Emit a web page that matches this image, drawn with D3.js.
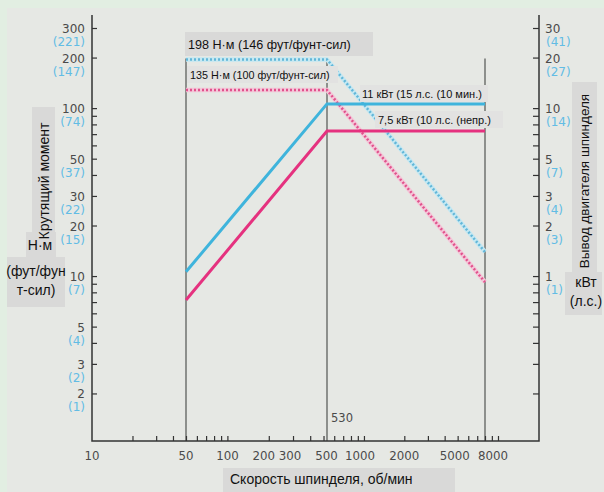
<!DOCTYPE html>
<html>
<head>
<meta charset="utf-8">
<script src="https://cdn.jsdelivr.net/npm/d3@7"></script>
<style>
body { margin: 0; background: #e6e8e4; }
svg { display: block; }
</style>
</head>
<body>
<svg id="chart"></svg>
<script>
// spindle speed (rpm) break points
const speeds = [50, 530, 8000];
// power curves, kW (right axis), as drawn
const power11 = [1.06, 10.6, 10.6];
const power75 = [0.72, 7.3, 7.3];
// torque curves, N·m (left axis), as drawn
const torque198 = [195, 195, 13.9];
const torque135 = [128, 128, 9.2];

const xLabels = [10, 50, 100, 200, 300, 500, 1000, 2000, 5000, 8000];
const xTicks = [20, 30, 40, 50, 60, 70, 80, 90, 100, 200, 300, 400, 500, 600, 700, 800, 900, 1000,
                2000, 3000, 4000, 5000, 6000, 7000, 8000, 9000, 10000];
const yLabels = [300, 200, 100, 50, 30, 20, 10, 5, 3, 2];
const yLabelsFt = ["(221)", "(147)", "(74)", "(37)", "(22)", "(15)", "(7)", "(4)", "(2)", "(1)"];
const yTicks = [2, 3, 4, 5, 6, 7, 8, 9, 10, 20, 30, 40, 50, 60, 70, 80, 90, 100, 200, 300];
const kwLabels = [30, 20, 10, 5, 3, 2, 1];
const kwLabelsHp = ["(41)", "(27)", "(14)", "(7)", "(4)", "(3)", "(1)"];
const kwTicks = yTicks.map(d => d / 10);

const width = 604, height = 492;
const svg = d3.select("#chart").attr("width", width).attr("height", height);

// background, pale green edge
svg.append("rect").attr("width", width).attr("height", height).attr("fill", "#e2eee2");
svg.append("rect").attr("x", 7).attr("y", 8).attr("width", width - 7).attr("height", height - 8).attr("fill", "#e6e8e4");

const x0 = 92, x1 = 539, yTop = 15, yBot = 441;

// the printed axis is not a clean log scale, so pin it at the marked speeds
const x = d3.scaleLog().domain([10, 50, 530, 8000]).range([92, 186, 327, 485]);
const y = d3.scaleLog().domain([1, 300]).range([444, 28]);
const yKw = d3.scaleLog().domain([0.1, 30]).range([444, 28]);

const numFont = "DejaVu Sans, sans-serif";
const txtFont = "Liberation Sans, Arial, sans-serif";

// vertical guide lines
svg.selectAll(".vline").data(speeds).join("line")
  .attr("x1", d => x(d)).attr("x2", d => x(d))
  .attr("y1", y(torque198[0]) - 1).attr("y2", yBot)
  .attr("stroke", "#5e605c").attr("stroke-width", 1.3);

const line = (vals, sc) => d3.line().x((d, i) => x(speeds[i])).y(d => sc(d))(vals);

// torque, dotted
function dotted(vals, halo, col) {
  svg.append("path").attr("d", line(vals, y)).attr("fill", "none")
    .attr("stroke", halo).attr("stroke-width", 4.5);
  svg.append("path").attr("d", line(vals, y)).attr("fill", "none")
    .attr("stroke", col).attr("stroke-width", 2.5).attr("stroke-dasharray", "2,2");
}
dotted(torque198, "#c4e8f2", "#62b6d8");
dotted(torque135, "#f4c6d8", "#e0528c");

// power, solid
svg.append("path").attr("d", line(power11, yKw)).attr("fill", "none")
  .attr("stroke", "#3fb4dc").attr("stroke-width", 3);
svg.append("path").attr("d", line(power75, yKw)).attr("fill", "none")
  .attr("stroke", "#e5327f").attr("stroke-width", 3);

// label boxes inside the plot
function box(bx, by, bw, bh, fill, tx, ty, size, str) {
  svg.append("rect").attr("x", bx).attr("y", by).attr("width", bw).attr("height", bh).attr("fill", fill);
  svg.append("text").attr("x", tx).attr("y", ty).attr("font-family", txtFont)
    .attr("font-size", size).attr("fill", "#111").text(str);
}
box(185, 32, 188, 24, "#d9d9d8", 188, 49, 12.6, "198 Н·м (146 фут/фунт-сил)");
box(187, 66, 151, 17, "#e2e2e1", 190, 79, 10.8, "135 Н·м (100 фут/фунт-сил)");
box(360, 85, 128, 17, "#e2e2e1", 362, 98, 11, "11 кВт (15 л.с. (10 мин.)");
box(375, 111, 128, 17, "#e2e2e1", 378, 124, 11, "7,5 кВт (10 л.с. (непр.)");

// frame
svg.append("path")
  .attr("d", `M${x0},${yTop}V${yBot}H${x1}V${yTop}`)
  .attr("fill", "none").attr("stroke", "#333").attr("stroke-width", 1.5);

// ticks
svg.append("g").attr("transform", `translate(${x0},0)`)
  .call(d3.axisRight(y).tickValues(yTicks).tickSize(5).tickFormat(""))
  .call(g => g.select(".domain").remove())
  .call(g => g.selectAll("line").attr("stroke", "#333").attr("stroke-width", 1.2));
svg.append("g").attr("transform", `translate(${x1},0)`)
  .call(d3.axisLeft(yKw).tickValues(kwTicks).tickSize(6).tickFormat(""))
  .call(g => g.select(".domain").remove())
  .call(g => g.selectAll("line").attr("stroke", "#333").attr("stroke-width", 1.2));
svg.append("g").attr("transform", `translate(0,${yBot})`)
  .call(d3.axisTop(x).tickValues(xTicks).tickSize(5).tickFormat(""))
  .call(g => g.select(".domain").remove())
  .call(g => g.selectAll("line").attr("stroke", "#333").attr("stroke-width", 1.2));

// left tick labels
svg.append("g").selectAll("text").data(yLabels).join("text")
  .attr("x", 85).attr("y", d => y(d) + 5).attr("text-anchor", "end")
  .attr("font-family", numFont).attr("font-size", 12).attr("fill", "#4a4a4a")
  .text(d => d);
svg.append("g").selectAll("text").data(yLabels).join("text")
  .attr("x", 85).attr("y", d => y(d) + 18).attr("text-anchor", "end")
  .attr("font-family", numFont).attr("font-size", 12).attr("fill", "#62bce4")
  .text((d, i) => yLabelsFt[i]);

// right tick labels
svg.append("g").selectAll("text").data(kwLabels).join("text")
  .attr("x", 545).attr("y", d => yKw(d) + 5)
  .attr("font-family", numFont).attr("font-size", 12).attr("fill", "#4a4a4a")
  .text(d => d);
svg.append("g").selectAll("text").data(kwLabels).join("text")
  .attr("x", 546).attr("y", d => yKw(d) + 18)
  .attr("font-family", numFont).attr("font-size", 12).attr("fill", "#62bce4")
  .text((d, i) => kwLabelsHp[i]);

// bottom tick labels, a few nudged apart like the print
const nudge = { 200: -5, 300: -3, 500: 3, 1000: -4, 5000: -3, 8000: 8 };
svg.append("g").selectAll("text").data(xLabels).join("text")
  .attr("x", d => x(d) + (nudge[d] || 0)).attr("y", 460).attr("text-anchor", "middle")
  .attr("font-family", numFont).attr("font-size", 11.8).attr("fill", "#4a4a4a")
  .text(d => d);
svg.append("text").attr("x", x(530) + 15).attr("y", 422).attr("text-anchor", "middle")
  .attr("font-family", numFont).attr("font-size", 11.5).attr("fill", "#4a4a4a").text("530");

// axis titles in grey boxes
svg.append("rect").attr("x", 32).attr("y", 107).attr("width", 23).attr("height", 130).attr("fill", "#d9d9d8");
svg.append("rect").attr("x", 26).attr("y", 232).attr("width", 30).attr("height", 26).attr("fill", "#d9d9d8");
svg.append("rect").attr("x", 7).attr("y", 257).attr("width", 58).attr("height", 50).attr("fill", "#d9d9d8");
svg.append("text").attr("transform", "translate(49,181) rotate(-90)").attr("text-anchor", "middle")
  .attr("font-family", txtFont).attr("font-size", 14).attr("fill", "#111").text("Крутящий момент");
svg.append("text").attr("x", 40).attr("y", 250).attr("text-anchor", "middle")
  .attr("font-family", txtFont).attr("font-size", 14).attr("fill", "#111").text("Н·м");
svg.append("text").attr("x", 36).attr("y", 276).attr("text-anchor", "middle")
  .attr("font-family", txtFont).attr("font-size", 14).attr("fill", "#111").text("(фут/фун");
svg.append("text").attr("x", 36).attr("y", 295).attr("text-anchor", "middle")
  .attr("font-family", txtFont).attr("font-size", 14).attr("fill", "#111").text("т-сил)");

svg.append("rect").attr("x", 572).attr("y", 82).attr("width", 25).attr("height", 190).attr("fill", "#d9d9d8");
svg.append("rect").attr("x", 565).attr("y", 272).attr("width", 37).attr("height", 43).attr("fill", "#d9d9d8");
svg.append("text").attr("transform", "translate(589,181) rotate(-90)").attr("text-anchor", "middle")
  .attr("font-family", txtFont).attr("font-size", 13.5).attr("fill", "#111").text("Вывод двигателя шпинделя");
svg.append("text").attr("x", 586).attr("y", 287).attr("text-anchor", "middle")
  .attr("font-family", txtFont).attr("font-size", 14).attr("fill", "#111").text("кВт");
svg.append("text").attr("x", 586).attr("y", 306).attr("text-anchor", "middle")
  .attr("font-family", txtFont).attr("font-size", 14).attr("fill", "#111").text("(л.с.)");

svg.append("rect").attr("x", 223).attr("y", 468).attr("width", 232).attr("height", 24).attr("fill", "#d9d9d8");
svg.append("text").attr("x", 230).attr("y", 484)
  .attr("font-family", txtFont).attr("font-size", 14).attr("fill", "#111").text("Скорость шпинделя, об/мин");
</script>
</body>
</html>
